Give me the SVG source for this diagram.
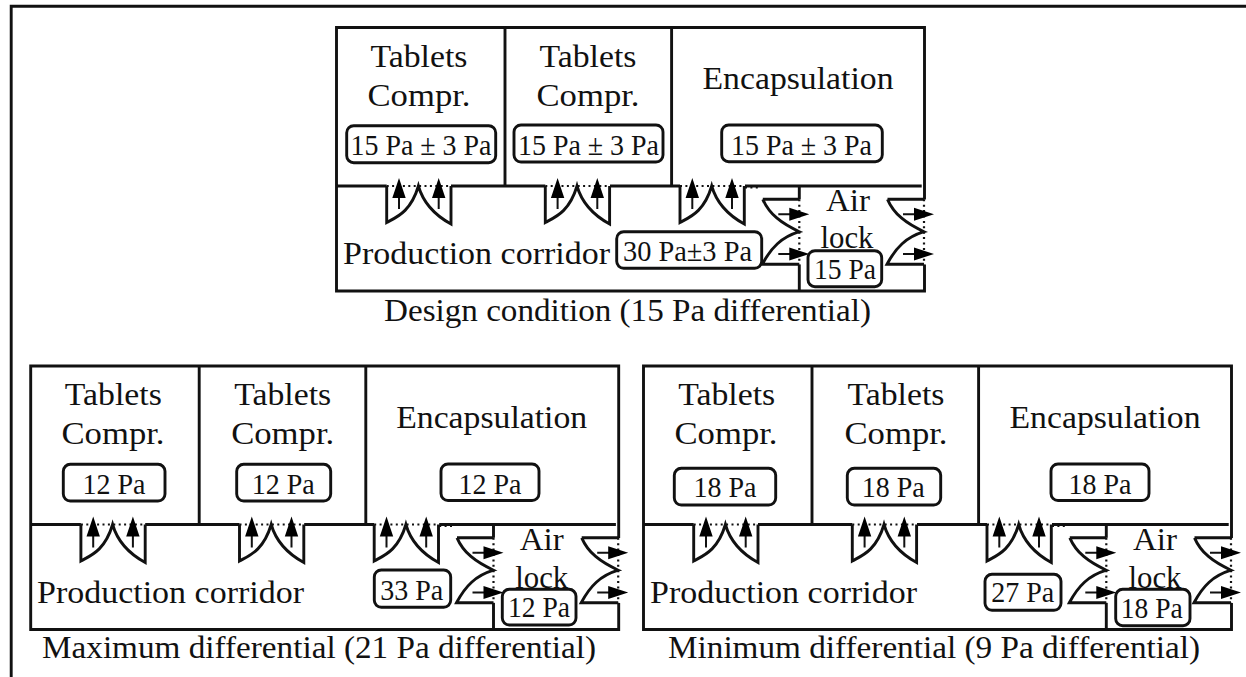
<svg xmlns="http://www.w3.org/2000/svg" xmlns:xlink="http://www.w3.org/1999/xlink" width="1246" height="677" viewBox="0 0 1246 677">
<style>
text{font-family:"Liberation Serif","Times New Roman",serif;fill:#111;text-anchor:middle}
.b{font-size:32px}
.s{font-size:29px}
.l{text-anchor:start}
.w{fill:none;stroke:#111;stroke-width:2.9;stroke-linejoin:miter}
.d{fill:none;stroke:#111;stroke-width:2.2;stroke-dasharray:2 3.4}
.a{fill:none;stroke:#111;stroke-width:2}
.h{fill:#000;stroke:none}
.p{fill:#fff;stroke:#111;stroke-width:2.9}
</style>
<defs>
<g id="door">
<path class="d" d="M0 0H64"/>
<path class="w" d="M0 0V36.5C10 31 24 26 31.7 0C36 15 46 28 64.3 38V0"/>
<path class="a" d="M12.3 10V23M52 10V23"/>
<path class="h" d="M12.3 -8L19 12H5.6ZM52 -8L58.7 12H45.3Z"/>
</g>
<g id="side">
<path class="d" d="M0 0V65"/>
<path class="w" d="M-36.5 0H0M-36.5 0C-30 15 -18 24 0 32.4C-18 38 -28 48 -37 65H0"/>
<path class="a" d="M-21 15H-8M-21 54.7H-8"/>
<path class="h" d="M10 15L-10 8.5V21.5ZM10 54.7L-10 48.2V61.2Z"/>
</g>
<g id="plan">
<path class="w" d="M336.5 186V27.5H924.5V199.5M336.5 186V291H924.5V264.5M505 27.5V186M671.6 27.5V186M336.5 186H386.7M451 186H545.3M610 186H680M745 186H921.7M799.3 186V199.3M799.3 264.5V291"/>
<path class="d" d="M745 187.4H761"/>
<use xlink:href="#door" href="#door" x="386.7" y="186"/>
<use xlink:href="#door" href="#door" x="545.3" y="186"/>
<use xlink:href="#door" href="#door" x="680" y="186"/>
<use xlink:href="#side" href="#side" x="799.3" y="199.3"/>
<use xlink:href="#side" href="#side" x="924" y="199.3"/>
</g>
</defs>
<g id="frame"><path class="w" d="M11.2 677V6.2H1246"/></g>

<g id="design-condition">
<use xlink:href="#plan" href="#plan"/>
<text class="b" x="419" y="66.7" textLength="97" lengthAdjust="spacingAndGlyphs">Tablets</text>
<text class="b" x="419" y="105.7" textLength="103" lengthAdjust="spacingAndGlyphs">Compr.</text>
<text class="b" x="588" y="66.7" textLength="97" lengthAdjust="spacingAndGlyphs">Tablets</text>
<text class="b" x="588" y="105.7" textLength="103" lengthAdjust="spacingAndGlyphs">Compr.</text>
<text class="b" x="798" y="89" textLength="191" lengthAdjust="spacingAndGlyphs">Encapsulation</text>
<text class="b l" x="343" y="264" textLength="267" lengthAdjust="spacingAndGlyphs">Production corridor</text>
<text class="b" x="848" y="210.7" textLength="44" lengthAdjust="spacingAndGlyphs">Air</text>
<text class="b" x="847" y="248" textLength="53" lengthAdjust="spacingAndGlyphs">lock</text>
<rect class="p" x="346.7" y="125.7" width="149" height="37" rx="7"/>
<text class="s" x="421" y="155" textLength="141" lengthAdjust="spacingAndGlyphs">15 Pa ± 3 Pa</text>
<rect class="p" x="514" y="125" width="149" height="37" rx="7"/>
<text class="s" x="588.5" y="155" textLength="141" lengthAdjust="spacingAndGlyphs">15 Pa ± 3 Pa</text>
<rect class="p" x="721.7" y="125" width="160.6" height="36.7" rx="7"/>
<text class="s" x="801.5" y="155" textLength="141" lengthAdjust="spacingAndGlyphs">15 Pa ± 3 Pa</text>
<rect class="p" x="616.7" y="231.7" width="145" height="36.6" rx="7"/>
<text class="s" x="687.5" y="260.7" textLength="129" lengthAdjust="spacingAndGlyphs">30 Pa±3 Pa</text>
<rect class="p" x="808" y="250.7" width="73.7" height="36" rx="7"/>
<text class="s" x="845" y="279" textLength="62" lengthAdjust="spacingAndGlyphs">15 Pa</text>
<text class="b" x="627.5" y="321" textLength="487" lengthAdjust="spacingAndGlyphs">Design condition (15 Pa differential)</text>
</g>

<g id="maximum-differential">
<use xlink:href="#plan" href="#plan" transform="translate(-305.8 338.5)"/>
<text class="b" x="113.3" y="405.2" textLength="97" lengthAdjust="spacingAndGlyphs">Tablets</text>
<text class="b" x="113" y="444.2" textLength="103" lengthAdjust="spacingAndGlyphs">Compr.</text>
<text class="b" x="282.7" y="405.2" textLength="97" lengthAdjust="spacingAndGlyphs">Tablets</text>
<text class="b" x="282.7" y="444.2" textLength="103" lengthAdjust="spacingAndGlyphs">Compr.</text>
<text class="b" x="491.7" y="427.5" textLength="191" lengthAdjust="spacingAndGlyphs">Encapsulation</text>
<text class="b l" x="37" y="602.7" textLength="267" lengthAdjust="spacingAndGlyphs">Production corridor</text>
<text class="b" x="541.7" y="550" textLength="44" lengthAdjust="spacingAndGlyphs">Air</text>
<text class="b" x="541.7" y="588" textLength="53" lengthAdjust="spacingAndGlyphs">lock</text>
<rect class="p" x="63.3" y="464.3" width="101.7" height="36.7" rx="7"/>
<text class="s" x="114" y="494" textLength="63" lengthAdjust="spacingAndGlyphs">12 Pa</text>
<rect class="p" x="236.7" y="464.3" width="94" height="36.7" rx="7"/>
<text class="s" x="283.3" y="494" textLength="63" lengthAdjust="spacingAndGlyphs">12 Pa</text>
<rect class="p" x="441" y="464" width="98" height="36.5" rx="7"/>
<text class="s" x="490" y="494" textLength="63" lengthAdjust="spacingAndGlyphs">12 Pa</text>
<rect class="p" x="374.3" y="570" width="76.4" height="37.3" rx="7"/>
<text class="s" x="411.7" y="600" textLength="63" lengthAdjust="spacingAndGlyphs">33 Pa</text>
<rect class="p" x="502.3" y="589.3" width="73.7" height="35.7" rx="7"/>
<text class="s" x="539" y="617.3" textLength="62" lengthAdjust="spacingAndGlyphs">12 Pa</text>
<text class="b" x="319" y="658.3" textLength="554" lengthAdjust="spacingAndGlyphs">Maximum differential (21 Pa differential)</text>
</g>

<g id="minimum-differential">
<use xlink:href="#plan" href="#plan" transform="translate(307 338.5)"/>
<text class="b" x="726.7" y="405.2" textLength="97" lengthAdjust="spacingAndGlyphs">Tablets</text>
<text class="b" x="726" y="444.2" textLength="103" lengthAdjust="spacingAndGlyphs">Compr.</text>
<text class="b" x="896" y="405.2" textLength="97" lengthAdjust="spacingAndGlyphs">Tablets</text>
<text class="b" x="896" y="444.2" textLength="103" lengthAdjust="spacingAndGlyphs">Compr.</text>
<text class="b" x="1105" y="427.5" textLength="191" lengthAdjust="spacingAndGlyphs">Encapsulation</text>
<text class="b l" x="650" y="602.7" textLength="267" lengthAdjust="spacingAndGlyphs">Production corridor</text>
<text class="b" x="1155" y="550" textLength="44" lengthAdjust="spacingAndGlyphs">Air</text>
<text class="b" x="1155" y="588" textLength="53" lengthAdjust="spacingAndGlyphs">lock</text>
<rect class="p" x="674.3" y="468.3" width="101.4" height="36.7" rx="7"/>
<text class="s" x="725" y="497.3" textLength="63" lengthAdjust="spacingAndGlyphs">18 Pa</text>
<rect class="p" x="847.3" y="468.3" width="93.4" height="36.7" rx="7"/>
<text class="s" x="893.3" y="497.3" textLength="63" lengthAdjust="spacingAndGlyphs">18 Pa</text>
<rect class="p" x="1051" y="464" width="98" height="36.5" rx="7"/>
<text class="s" x="1100" y="494" textLength="63" lengthAdjust="spacingAndGlyphs">18 Pa</text>
<rect class="p" x="985" y="574.3" width="76" height="36" rx="7"/>
<text class="s" x="1022.7" y="602.3" textLength="63" lengthAdjust="spacingAndGlyphs">27 Pa</text>
<rect class="p" x="1115.7" y="589.3" width="74.3" height="36.4" rx="7"/>
<text class="s" x="1151.7" y="617.7" textLength="62" lengthAdjust="spacingAndGlyphs">18 Pa</text>
<text class="b" x="934" y="657.5" textLength="532" lengthAdjust="spacingAndGlyphs">Minimum differential (9 Pa differential)</text>
</g>
</svg>
